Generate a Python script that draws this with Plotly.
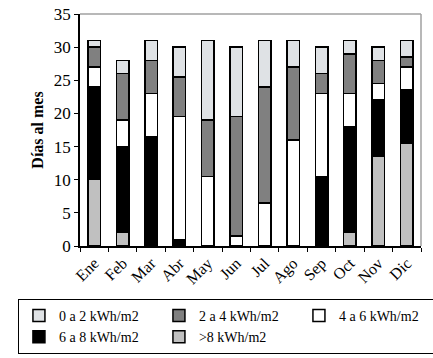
import plotly.graph_objects as go

months = ["Ene", "Feb", "Mar", "Abr", "May", "Jun", "Jul", "Ago", "Sep", "Oct", "Nov", "Dic"]
s_0a2 = [1, 2, 3, 4.5, 12, 10.5, 7, 4, 4, 2, 2, 2.5]
s_2a4 = [3, 7, 5, 6, 8.5, 18, 17.5, 11, 3, 6, 3.5, 1.5]
s_4a6 = [3, 4, 6.5, 18.5, 10.5, 1.5, 6.5, 16, 12.5, 5, 2.5, 3.5]
s_6a8 = [14, 13, 16.5, 1, 0, 0, 0, 0, 10.5, 16, 8.5, 8]
s_gt8 = [10, 2, 0, 0, 0, 0, 0, 0, 0, 2, 13.5, 15.5]

series = [
    (">8 kWh/m2", s_gt8, "#c0c0c0"),
    ("6 a 8 kWh/m2", s_6a8, "#000000"),
    ("4 a 6 kWh/m2", s_4a6, "#ffffff"),
    ("2 a 4 kWh/m2", s_2a4, "#808080"),
    ("0 a 2 kWh/m2", s_0a2, "#dfe2e5"),
]

fig = go.Figure()
for name, vals, col in series:
    fig.add_trace(go.Bar(
        x=months, y=vals, name=name,
        marker=dict(color=col, line=dict(color="black", width=1.5)),
    ))

font = "Liberation Serif, Times New Roman, serif"
fig.update_layout(
    barmode="stack",
    bargap=0.56,
    width=433, height=358,
    margin=dict(l=80, r=12, t=14, b=112, autoexpand=False),
    paper_bgcolor="white", plot_bgcolor="white",
    font=dict(family=font, size=16, color="black"),
    showlegend=True,
    legend=dict(
        orientation="h", traceorder="reversed",
        x=-0.182, y=-0.228, xanchor="left", yanchor="top",
        entrywidth=95, entrywidthmode="pixels",
        bordercolor="black", borderwidth=1,
        font=dict(family=font, size=14),
        itemwidth=30, tracegroupgap=0,
    ),
    xaxis=dict(
        showline=True, linecolor="black", linewidth=1.5,
        ticks="outside", tickson="boundaries", ticklen=4, tickcolor="black",
        tickangle=-45, tickfont=dict(size=16),
    ),
    yaxis=dict(
        range=[0, 35], dtick=5, showgrid=False,
        showline=True, linecolor="black", linewidth=1.5,
        ticks="outside", ticklen=4, tickcolor="black",
        tickfont=dict(size=17),
        title=dict(text="<b>Días al mes</b>", font=dict(size=16), standoff=6),
        zeroline=False,
    ),
    shapes=[
        dict(type="line", xref="paper", yref="paper", x0=0, x1=1, y0=1, y1=1,
             line=dict(color="#a0a0a0", width=1.5)),
        dict(type="line", xref="paper", yref="paper", x0=1, x1=1, y0=0, y1=1,
             line=dict(color="#a0a0a0", width=1.5)),
    ],
)

fig.write_html("out.html")
